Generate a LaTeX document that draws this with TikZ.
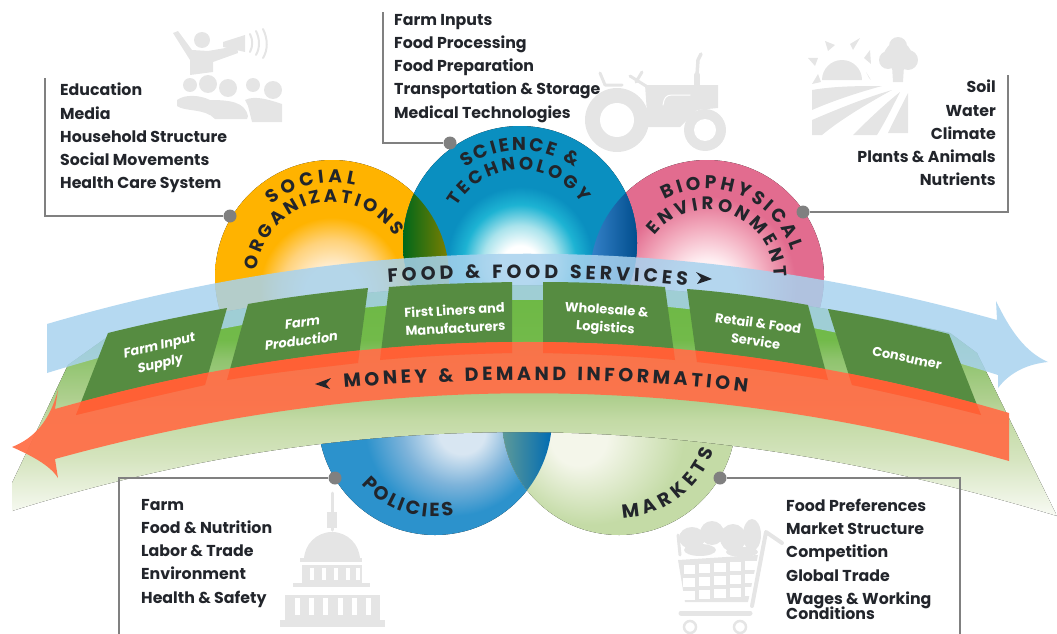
\documentclass[tikz,border=0pt]{standalone}
\usepackage{fontspec}
\setmainfont{Poppins}
\usetikzlibrary{decorations.text,calc}
\definecolor{icon}{HTML}{E5E5E5}
\definecolor{leader}{HTML}{808080}
\definecolor{boxgreen}{HTML}{568C41}
\definecolor{bandblue}{HTML}{A8D2EE}
\definecolor{bandorange}{HTML}{FF7049}
\definecolor{boxorange}{HTML}{FF6035}
\definecolor{inktext}{HTML}{22252B}
\definecolor{socouter}{HTML}{FFB300}
\definecolor{socmid}{HTML}{FFD27A}
\definecolor{socin}{HTML}{FFEDCF}
\pgfdeclareradialshading{socshade}{\pgfpoint{0bp}{-4bp}}{color(0bp)=(socin);color(6bp)=(socin);color(11bp)=(socmid);color(15.5bp)=(socouter);color(50bp)=(socouter)}
\definecolor{sciouter}{HTML}{0A8FC0}
\definecolor{scimid}{HTML}{1DB3D3}
\definecolor{scilight}{HTML}{A9E3EC}
\pgfdeclareradialshading{scishade}{\pgfpoint{0bp}{-5bp}}{color(0bp)=(white);color(4bp)=(white);color(8bp)=(scilight);color(12bp)=(scimid);color(15.5bp)=(sciouter);color(50bp)=(sciouter)}
\definecolor{bioouter}{HTML}{E26C8F}
\definecolor{biomid}{HTML}{F2A9BC}
\definecolor{bioin}{HTML}{FFF0F3}
\pgfdeclareradialshading{bioshade}{\pgfpoint{0bp}{-2.8bp}}{color(0bp)=(bioin);color(6bp)=(bioin);color(13bp)=(biomid);color(19bp)=(bioouter);color(50bp)=(bioouter)}
\definecolor{polouter}{HTML}{2C92CC}
\definecolor{polmid}{HTML}{7DB3DA}
\definecolor{polin}{HTML}{D8E6F2}
\pgfdeclareradialshading{polshade}{\pgfpoint{6.4bp}{-3bp}}{color(0bp)=(polin);color(5bp)=(polin);color(12bp)=(polmid);color(19bp)=(polouter);color(50bp)=(polouter)}
\definecolor{mktouter}{HTML}{C4DBA6}
\definecolor{mktin}{HTML}{F4F6EA}
\pgfdeclareradialshading{mktshade}{\pgfpoint{-9.8bp}{-4.7bp}}{color(0bp)=(mktin);color(6bp)=(mktin);color(20bp)=(mktouter);color(50bp)=(mktouter)}
\definecolor{gr1}{HTML}{6DB844}
\definecolor{gr1b}{HTML}{72BA4A}
\definecolor{gr2}{HTML}{90C46F}
\definecolor{gr2b}{HTML}{B0D090}
\definecolor{gr3}{HTML}{C3DAA5}
\definecolor{gr4}{HTML}{D6E5C0}
\definecolor{gr5}{HTML}{FBFCF8}
\pgfdeclareverticalshading{greenband}{100bp}{color(0bp)=(gr5);color(25bp)=(gr5);color(37.8bp)=(gr4);color(46.3bp)=(gr3);color(50.5bp)=(gr2b);color(59bp)=(gr2);color(63.3bp)=(gr1b);color(75bp)=(gr1);color(100bp)=(gr1)}
\tikzset{
  x=1pt,y=-1pt,
  listtext/.style={font=\fontsize{15.8}{23.2}\selectfont\bfseries,text=inktext,align=left,anchor=north west,inner sep=0pt},
  listright/.style={listtext,align=right,anchor=north east},
  boxtext/.style={font=\fontsize{13}{18}\selectfont\bfseries,text=white,align=center,inner sep=0pt},
  leaderline/.style={draw=leader,line width=1.6pt},
  leaderdot/.style={circle,fill=leader,minimum size=13pt,inner sep=0pt},
  iconfill/.style={fill=icon,draw=none},
  iconline/.style={draw=icon,line cap=round,line join=round},
  boxfill/.style={fill=boxgreen,draw=none}
}
\newcommand{\arctext}[7]{% cx cy r start end size text
  \path[decorate,decoration={text along path,text color=inktext,text align={fit to path},text={|\fontsize{#6}{#6}\selectfont\bfseries|#7}}] (#1,#2) ++(#4:#3pt) arc (#4:#5:#3pt);}
\newcommand{\bluepath}{(47,324) .. controls (364,231) and (680,231) .. (997,320) -- (996,301) .. controls (1010,330) and (1025,352) .. (1048,362) .. controls (1028,364) and (1010,372) .. (998,388) -- (998,375) .. controls (681,275) and (364,275) .. (47,373) -- cycle}
\newcommand{\orangepath}{(55,409) -- (58,390) .. controls (50,420) and (35,438) .. (12,447) .. controls (30,455) and (50,465) .. (58,478) -- (55,459) .. controls (373,371) and (691,371) .. (1009,461) -- (1009,413) .. controls (691,319) and (373,319) .. (55,409) -- cycle}
\newcommand{\greenpath}{(12,483) -- (68,365) -- (110,335) .. controls (390,269) and (670,269) .. (950,333) -- (977,353) -- (1057,516) .. controls (690,405) and (350,405) .. (12,511) -- cycle}
\newcommand{\boxA}{(108,333) .. controls (148,323) and (188,315) .. (227,308) -- (205,385) .. controls (160,395) and (118,405) .. (76,415) -- cycle}
\newcommand{\boxB}{(248,304) .. controls (288,297) and (328,292) .. (368,288) -- (358,363) .. controls (315,368) and (270,373) .. (227,380) -- cycle}
\newcommand{\boxC}{(389,287) .. controls (430,284) and (470,283) .. (512,282) -- (512,353) .. controls (468,354) and (424,356) .. (380,360) -- cycle}
\newcommand{\boxD}{(543,282) .. controls (584,282) and (624,284) .. (665,287) -- (675,360) .. controls (632,356) and (588,354) .. (543,353) -- cycle}
\newcommand{\boxE}{(687,289) .. controls (727,292) and (768,298) .. (808,305) -- (828,380) .. controls (785,373) and (741,367) .. (697,362) -- cycle}
\newcommand{\boxF}{(828,309) .. controls (869,316) and (909,324) .. (949,334) -- (981,415) .. controls (938,404) and (895,394) .. (852,385) -- cycle}
\begin{document}
\begin{tikzpicture}
\useasboundingbox (0,0) rectangle (1057,634);
% ---------- icons ----------
% orator
\fill[iconfill] (202,40) circle (8);
\fill[iconfill] (173,33) -- (178,31) -- (192,50) -- (208,51) -- (237,46) -- (238,53) -- (213,62) -- (213,72) -- (190,75) -- (190,60) -- cycle;
\fill[iconfill] (223,42) -- (245,35) -- (245,52) -- (223,47) -- cycle;
\draw[iconline,line width=2pt] (250,34) .. controls (253,40) and (253,46) .. (250,52);
\draw[iconline,line width=2pt] (256,31) .. controls (260,39) and (260,48) .. (256,55);
\draw[iconline,line width=2pt] (263,29) .. controls (268,39) and (268,50) .. (263,58);
\fill[iconfill] (190,85) circle (7) (208,84) circle (9) (228,88) circle (9) (253,85) circle (7) (273,90) circle (9);
\fill[iconfill] (177,100) .. controls (185,94) and (200,95) .. (210,100) .. controls (230,100) and (245,102) .. (248,116) -- (247,119) -- (215,119) .. controls (205,108) and (185,112) .. (177,106) -- cycle;
\fill[iconfill] (245,100) .. controls (255,95) and (270,100) .. (282,104) -- (282,122) -- (252,122) -- (248,106) -- cycle;
% tractor
\fill[iconfill] (645,85) -- (718,85) -- (718,108) -- (697,110) -- (680,127) -- (648,127) -- cycle;
\draw[iconline,line width=6pt] (697,103) -- (697,75);
\draw[iconline,line width=3.5pt] (697,75) -- (698,60) -- (701,54);
\draw[iconline,white,line width=1pt] (663,105) .. controls (664,98) and (666,95) .. (672,95) -- (690,95);
\draw[iconline,line width=3pt] (600,73) -- (605,85) -- (622,85);
\draw[iconline,line width=3pt] (642,72) -- (636,82) (630,76) -- (646,86);
\fill[icon] (617,120) circle (32);
\fill[white] (617,120) circle (17);
\fill[icon] (705,130) circle (21);
\fill[white] (705,130) circle (11);
% sun and field
\fill[iconfill] (822,80) arc (180:0:20pt) -- cycle;
\fill[iconfill] (825,41) -- (835,45) -- (828,51) -- cycle (850,44) -- (860,38) -- (853,50) -- cycle (870,50) -- (871,64) -- (864,58) -- cycle (869,78) -- (871,80) -- (866,72) -- cycle (808,58) -- (818,58) -- (815,66) -- cycle (812,84) -- (818,74) -- (821,82) -- cycle;
\fill[iconfill] (812,90) .. controls (835,86) and (860,86) .. (882,86) .. controls (860,92) and (835,100) .. (812,110) -- cycle;
\fill[iconfill] (812,120) .. controls (840,108) and (865,98) .. (892,90) .. controls (865,105) and (840,120) .. (822,135) -- (812,135) -- cycle;
\fill[iconfill] (853,135) .. controls (870,118) and (885,104) .. (900,92) .. controls (892,108) and (885,122) .. (877,135) -- cycle;
\fill[iconfill] (888,133) .. controls (895,118) and (902,105) .. (908,93) -- (908,133) -- cycle;
\fill[iconfill] (898,56) circle (14) (888,60) circle (9) (908,60) circle (10) (898,46) circle (9);
\fill[iconfill] (892,66) -- (904,66) -- (903,82) -- (893,82) -- cycle;
% capitol
\draw[iconline,line width=3pt] (332,493) -- (332,530);
\fill[iconfill] (327,512) rectangle (337,528);
\fill[iconfill] (304,560) arc (180:0:28pt) -- cycle;
\fill[iconfill] (300,558) rectangle (362,562);
\fill[iconfill] (302,565) rectangle (362,585);
\fill[iconfill] (293,583) rectangle (370,587);
\fill[iconfill] (285,595) rectangle (380,620);
\fill[iconfill] (280,620) rectangle (385,627);
\foreach \i in {310,322,334,346,356} {\fill[white] (\i,568) rectangle +(3.5,12);}
\foreach \i in {295,309,323,338,352,366} {\fill[white] (\i,598) rectangle +(5,17);}
% cart
\draw[iconline,line width=3pt] (678,535) -- (680,555);
\fill[iconfill] (692,538) ellipse (13 and 11) (712,533) ellipse (12 and 12) (733,538) ellipse (13 and 14) (752,535) ellipse (9 and 16) (700,550) ellipse (16 and 6) (742,552) ellipse (16 and 5);
\fill[iconfill] (678,560) -- (758,555) -- (748,602) -- (685,602) -- cycle;
\foreach \c/\r in {0/0,1/0,2/0,3/0,4/0,0/1,1/1,2/1,3/1,4/1,0/2,1/2,2/2,3/2,4/2} {
  \fill[white] ({683.5+\c*15.4-\r*0.1},{564.5+\r*13-\c*1}) rectangle +(11.5,9);
}
\draw[iconline,line width=4pt] (752,606) -- (766,532) -- (782,543);
\draw[iconline,line width=5pt] (681,613) -- (750,613);
\draw[icon,line width=2.5pt] (690,627) circle (6) (740,627) circle (6);
% ---------- circles ----------
\fill[shading=socshade] (332,277) circle (117);
\fill[shading=bioshade] (707,277) circle (117);
\fill[shading=scishade] (520,243) circle (117);
\begin{scope}
  \clip (332,277) circle (117);
  \clip (520,243) circle (117);
  \shade[left color=green!45!black!90!blue,right color=olive] (403,180) rectangle (450,300);
\end{scope}
\begin{scope}
  \clip (707,277) circle (117);
  \clip (520,243) circle (117);
  \shade[left color=blue!40!gray!70!cyan,right color=blue!45!cyan!55!black] (590,180) rectangle (638,300);
\end{scope}
\fill[shading=polshade] (435,418) circle (117);
\fill[shading=mktshade] (619,418) circle (117);
\begin{scope}
  \clip (435,418) circle (117);
  \clip (619,418) circle (117);
  \shade[left color=teal!60!gray!80!white,right color=cyan!60!blue!70!black] (503,420) rectangle (552,530);
\end{scope}
% ---------- bands ----------
\begin{scope}
  \clip \greenpath;
  \fill[shading=greenband] (0,285) rectangle (1057,520);
\end{scope}
\fill[bandblue,opacity=.85] \bluepath;
\fill[boxfill] \boxA;
\fill[boxfill] \boxB;
\fill[boxfill] \boxC;
\fill[boxfill] \boxD;
\fill[boxfill] \boxE;
\fill[boxfill] \boxF;
\fill[bandorange,opacity=.95] \orangepath;
\begin{scope}
  \clip \orangepath;
  \fill[boxorange] \boxA;
  \fill[boxorange] \boxB;
  \fill[boxorange] \boxC;
  \fill[boxorange] \boxD;
  \fill[boxorange] \boxE;
  \fill[boxorange] \boxF;
\end{scope}
% ---------- box labels ----------
\node[boxtext,rotate=14,xslant=.2] (t1) at (160,356) {Farm Input\\Supply};
\node[boxtext,rotate=8,xslant=.2] (t2) at (302,332) {Farm\\Production};
\node[boxtext,rotate=3] (t3) at (455,319) {First Liners and\\Manufacturers};
\node[boxtext,rotate=-4] (t4) at (606,320) {Wholesale \&\\Logistics};
\node[boxtext,rotate=-8] (t5) at (757,332) {Retail \& Food\\Service};
\node[boxtext,rotate=-12] (t6) at (907,358) {Consumer};
% ---------- band labels ----------
\path[decorate,decoration={text along path,text color=inktext,text align={fit to path},text={|\fontsize{19}{19}\selectfont\bfseries|FOOD {\&} FOOD SERVICES}}] (388,283) .. controls (480,276) and (600,276) .. (687,286);
\path[decorate,decoration={text along path,text color=inktext,text align={fit to path},text={|\fontsize{19}{19}\selectfont\bfseries|MONEY {\&} DEMAND INFORMATION}}] (344,388) .. controls (450,378) and (630,376) .. (747,392);
\fill[inktext] (696,272) -- (712,279) -- (697,284) -- (701,278) -- cycle;
\fill[inktext] (331,378) -- (315,384) -- (330,389) -- (326,384) -- cycle;
% ---------- circle labels ----------
\arctext{332}{277}{94}{130}{76}{18.5}{SOCIAL}
\arctext{332}{277}{75}{175}{33}{18}{ORGANIZATIONS}
\arctext{520}{243}{93}{126}{54}{18.5}{SCIENCE {\&}}
\arctext{520}{243}{73}{150}{33}{18}{TECHNOLOGY}
\arctext{707}{277}{88}{119}{17}{18.5}{BIOPHYSICAL}
\arctext{707}{277}{67}{142}{0}{18}{ENVIRONMENT}
\arctext{435}{418}{99}{222}{281}{19}{POLICIES}
\arctext{619}{418}{100}{272}{341}{19}{MARKETS}
% ---------- leaders ----------
\node[leaderdot] (socdot) at (230,216) {};
\node[leaderdot] (scidot) at (450,143) {};
\node[leaderdot] (biodot) at (803,212) {};
\node[leaderdot] (poldot) at (335,478) {};
\node[leaderdot] (mktdot) at (720,478) {};
\coordinate (socc) at (45,216); \coordinate (soce) at (45,78);
\coordinate (scic) at (383,143); \coordinate (scie) at (383,12);
\coordinate (bioc) at (1008,212); \coordinate (bioe) at (1008,75);
\coordinate (polc) at (119,478); \coordinate (pole) at (119,634);
\coordinate (mktc) at (960,478); \coordinate (mkte) at (960,634);
\draw[leaderline] (socdot) -- (socc) -- (soce);
\draw[leaderline] (scidot) -- (scic) -- (scie);
\draw[leaderline] (biodot) -- (bioc) -- (bioe);
\draw[leaderline] (poldot) -- (polc) -- (pole);
\draw[leaderline] (mktdot) -- (mktc) -- (mkte);
% ---------- lists ----------
\node[listtext] (l1) at (60,83) {Education\\Media\\Household Structure\\Social Movements\\Health Care System};
\node[listtext] (l2) at (394,14) {Farm Inputs\\Food Processing\\Food Preparation\\Transportation \& Storage\\Medical Technologies};
\node[listright] (l3) at (996,80) {Soil\\Water\\Climate\\Plants \& Animals\\Nutrients};
\node[listtext] (l4) at (141,499) {Farm\\Food \& Nutrition\\Labor \& Trade\\Environment\\Health \& Safety};
\node[listtext] (l5) at (786,499) {Food Preferences\\Market Structure\\Competition\\Global Trade\\Wages \& Working\\[-8pt]Conditions};
\end{tikzpicture}
\end{document}
